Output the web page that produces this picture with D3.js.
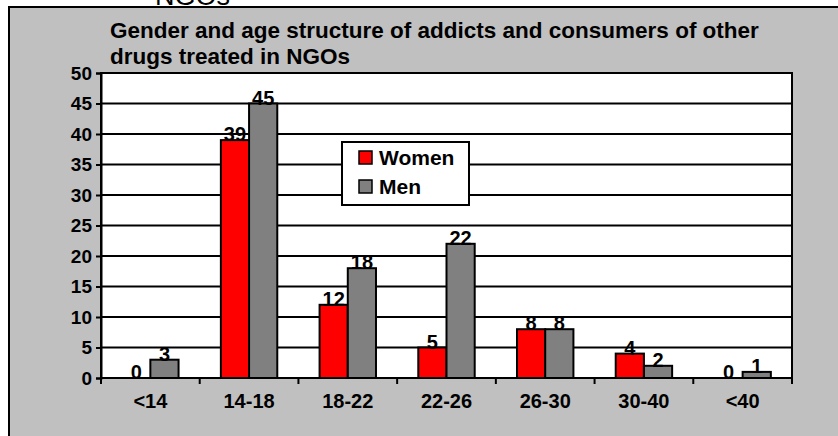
<!DOCTYPE html>
<html>
<head>
<meta charset="utf-8">
<script src="https://cdn.jsdelivr.net/npm/d3@7"></script>
<style>
  body { margin: 0; background: #fff; overflow: hidden; }
  svg text { font-family: Arial, "Liberation Sans", sans-serif; }
</style>
</head>
<body>
<svg id="chart" width="838" height="436"></svg>
<script>
// chart data
const categories = ["<14", "14-18", "18-22", "22-26", "26-30", "30-40", "<40"];
const women = [0, 39, 12, 5, 8, 4, 0];
const men = [3, 45, 18, 22, 8, 2, 1];
const seriesNames = ["Women", "Men"];
const yTicks = [0, 5, 10, 15, 20, 25, 30, 35, 40, 45, 50];
const titleLines = ["Gender and age structure of addicts and consumers of other",
                    "drugs treated in NGOs"];

const colors = {Women: "#ff0000", Men: "#808080"};

let svg = d3.select("#chart");

// cut off caption remnant above the chart box
svg.append("text")
    .attr("x", 155).attr("y", 5)
    .attr("font-size", 27)
    .text("NGOs");

// outer chart box, runs past the right and bottom of the window
svg.append("rect")
    .attr("x", 9).attr("y", 7)
    .attr("width", 900).attr("height", 500)
    .attr("fill", "#c0c0c0")
    .attr("stroke", "#000").attr("stroke-width", 2);

svg.selectAll("text.title").data(titleLines).enter()
    .append("text")
    .attr("class", "title")
    .attr("x", 110)
    .attr("y", (d, i) => 38 + i * 26)
    .attr("font-size", 22.5).attr("font-weight", "bold")
    .text(d => d);

const plot = {left: 101, top: 73, right: 792, bottom: 378};

let x = d3.scaleBand()
    .domain(categories)
    .range([plot.left, plot.right]);

let xs = d3.scaleBand()
    .domain(seriesNames)
    .range([0, x.bandwidth()])
    .paddingInner(0)
    .paddingOuter(0.75);

let y = d3.scaleLinear()
    .domain([0, 50])
    .range([plot.bottom, plot.top]);

// plot area
svg.append("rect")
    .attr("x", plot.left).attr("y", plot.top)
    .attr("width", plot.right - plot.left)
    .attr("height", plot.bottom - plot.top)
    .attr("fill", "#fff")
    .attr("stroke", "#000").attr("stroke-width", 2);

// gridlines
svg.append("g").selectAll("line").data(yTicks).enter()
    .append("line")
    .attr("x1", plot.left).attr("x2", plot.right)
    .attr("y1", d => y(d)).attr("y2", d => y(d))
    .attr("stroke", "#000").attr("stroke-width", 2);

// y axis
let yAxis = svg.append("g")
    .attr("transform", "translate(" + plot.left + ",0)")
    .call(d3.axisLeft(y).tickValues(yTicks).tickSize(5).tickPadding(4));
yAxis.select(".domain").attr("stroke-width", 2);
yAxis.selectAll(".tick line").attr("stroke-width", 2);
yAxis.selectAll("text")
    .attr("font-size", 19).attr("font-weight", "bold")
    .attr("font-family", null).attr("fill", "#000");

// x axis: ticks sit at the category boundaries
let bounds = categories.map(c => x(c)).concat([plot.right]);
svg.append("g").selectAll("line").data(bounds).enter()
    .append("line")
    .attr("x1", d => d).attr("x2", d => d)
    .attr("y1", plot.bottom).attr("y2", plot.bottom + 6)
    .attr("stroke", "#000").attr("stroke-width", 2);
svg.append("line")
    .attr("x1", plot.left - 1).attr("x2", plot.right + 1)
    .attr("y1", plot.bottom).attr("y2", plot.bottom)
    .attr("stroke", "#000").attr("stroke-width", 2);
svg.append("g").selectAll("text").data(categories).enter()
    .append("text")
    .attr("x", d => x(d) + x.bandwidth() / 2)
    .attr("y", 408)
    .attr("text-anchor", "middle")
    .attr("font-size", 20).attr("font-weight", "bold")
    .text(d => d);

// bars
let rows = categories.map((c, i) => ({cat: c, Women: women[i], Men: men[i]}));
let groups = svg.append("g").selectAll("g").data(rows).enter()
    .append("g")
    .attr("transform", d => "translate(" + x(d.cat) + ",0)");

groups.selectAll("rect")
    .data(d => seriesNames.map(s => ({s: s, v: d[s]})))
    .enter().append("rect")
    .filter(d => d.v > 0)
    .attr("x", d => xs(d.s))
    .attr("y", d => y(d.v))
    .attr("width", xs.bandwidth())
    .attr("height", d => y(0) - y(d.v))
    .attr("fill", d => colors[d.s])
    .attr("stroke", "#000").attr("stroke-width", 2);

groups.selectAll("text")
    .data(d => seriesNames.map(s => ({s: s, v: d[s]})))
    .enter().append("text")
    .attr("x", d => xs(d.s) + xs.bandwidth() / 2)
    .attr("y", d => y(d.v) + 1)
    .attr("text-anchor", "middle")
    .attr("font-size", 20).attr("font-weight", "bold")
    .text(d => d.v);

// legend
let legend = svg.append("g").attr("transform", "translate(342,142)");
legend.append("rect")
    .attr("width", 127).attr("height", 63)
    .attr("fill", "#fff")
    .attr("stroke", "#000").attr("stroke-width", 2);
let items = legend.selectAll("g").data(seriesNames).enter()
    .append("g")
    .attr("transform", (d, i) => "translate(17," + (9 + i * 29) + ")");
items.append("rect")
    .attr("width", 13).attr("height", 13)
    .attr("fill", d => colors[d])
    .attr("stroke", "#000").attr("stroke-width", 1.5);
items.append("text")
    .attr("x", 20).attr("y", 14)
    .attr("font-size", 21).attr("font-weight", "bold")
    .text(d => d);
</script>
</body>
</html>
